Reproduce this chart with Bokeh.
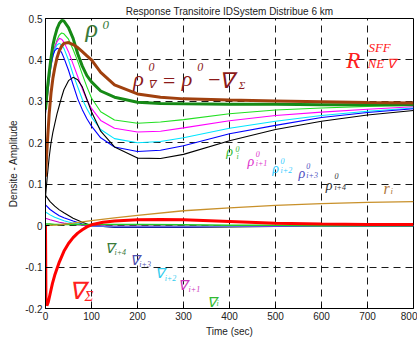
from bokeh.plotting import figure
from bokeh.models import Label, CustomJSTickFormatter
from bokeh.embed import file_html
from bokeh.resources import INLINE

# ---------------- data ----------------
t_rho = [0, 4, 8, 12, 16, 20, 25, 30, 35, 40, 50, 60, 70, 80, 90, 100, 120, 150,
         200, 250, 300, 400, 500, 600, 700, 800]
rho0 = [0.28, 0.33, 0.37, 0.405, 0.435, 0.455, 0.475, 0.488, 0.495, 0.494, 0.478, 0.452,
        0.415, 0.385, 0.362, 0.347, 0.325, 0.31, 0.298, 0.295, 0.294, 0.293, 0.293, 0.292, 0.292, 0.292]
rho_grad = [0.118, 0.2, 0.27, 0.32, 0.355, 0.38, 0.405, 0.422, 0.433, 0.44, 0.442, 0.437,
            0.43, 0.42, 0.41, 0.4, 0.37, 0.34, 0.318, 0.31, 0.306, 0.303, 0.301, 0.299, 0.297, 0.296]
rho_i = [0.27, 0.31, 0.35, 0.385, 0.41, 0.43, 0.448, 0.46, 0.465, 0.463, 0.45, 0.425,
         0.397, 0.365, 0.335, 0.308, 0.275, 0.255, 0.247, 0.25, 0.256, 0.27, 0.279, 0.284, 0.288, 0.291]
rho_i1 = [0.27, 0.31, 0.35, 0.385, 0.41, 0.43, 0.444, 0.452, 0.45, 0.443, 0.42, 0.39,
          0.36, 0.33, 0.303, 0.283, 0.254, 0.235, 0.226, 0.228, 0.236, 0.253, 0.266, 0.274, 0.281, 0.287]
rho_i2 = [0.275, 0.315, 0.355, 0.388, 0.41, 0.425, 0.436, 0.44, 0.436, 0.428, 0.40, 0.365,
          0.335, 0.305, 0.282, 0.262, 0.232, 0.21, 0.2, 0.203, 0.212, 0.235, 0.252, 0.266, 0.276, 0.284]
rho_i3 = [0.283, 0.32, 0.36, 0.39, 0.41, 0.422, 0.428, 0.426, 0.418, 0.405, 0.375, 0.34,
          0.306, 0.28, 0.258, 0.24, 0.212, 0.19, 0.179, 0.182, 0.193, 0.222, 0.242, 0.261, 0.273, 0.282]
rho_i4 = [0.07, 0.12, 0.165, 0.2, 0.225, 0.245, 0.27, 0.29, 0.31, 0.328, 0.35, 0.358,
          0.352, 0.335, 0.305, 0.275, 0.228, 0.19, 0.163, 0.162, 0.172, 0.205, 0.232, 0.252, 0.267, 0.278]

t_grad = [0, 10, 20, 30, 40, 60, 80, 100, 150, 200, 300, 400, 500, 600, 800]
grad_i4 = [0.073, 0.058, 0.047, 0.038, 0.031, 0.018, 0.008, 0.0, -0.004, -0.004, -0.004, -0.003, -0.002, -0.001, -0.001]
grad_i3 = [0.05, 0.039, 0.031, 0.024, 0.019, 0.011, 0.004, -0.001, -0.003, -0.003, -0.003, -0.002, -0.002, -0.001, -0.001]
grad_i2 = [0.033, 0.026, 0.02, 0.016, 0.012, 0.006, 0.002, -0.001, -0.002, -0.002, -0.002, -0.002, -0.001, -0.001, 0.0]
grad_i1 = [0.018, 0.014, 0.011, 0.008, 0.006, 0.003, 0.001, 0.0, -0.001, -0.001, -0.001, -0.001, -0.001, 0.0, 0.0]
grad_i = [0.004, 0.004, 0.003, 0.003, 0.003, 0.003, 0.003, 0.003, 0.003, 0.003, 0.002, 0.001, 0.001, 0.0, 0.0]

t_sum = [0, 1, 3, 6, 10, 15, 20, 30, 40, 50, 60, 70, 80, 90, 100, 125, 150, 200, 250,
         300, 400, 500, 600, 700, 800]
grad_sum = [0.0, -0.18, -0.193, -0.185, -0.165, -0.14, -0.12, -0.088, -0.062, -0.043, -0.029,
            -0.018, -0.01, -0.003, 0.002, 0.008, 0.011, 0.014, 0.015, 0.014, 0.01, 0.006, 0.004, 0.003, 0.003]

t_r = [0, 30, 60, 80, 100, 150, 200, 300, 400, 500, 600, 700, 800]
r_i = [0.0, 0.002, 0.006, 0.009, 0.012, 0.019, 0.025, 0.036, 0.043, 0.049, 0.053, 0.056, 0.058]

x_ticks = [0, 100, 200, 300, 400, 500, 600, 700, 800]
y_ticks = [-0.2, -0.1, 0.0, 0.1, 0.2, 0.3, 0.4, 0.5]

# ---------------- figure ----------------
p = figure(width=417, height=340, x_range=(0, 800), y_range=(-0.2, 0.5),
           output_backend="svg", toolbar_location=None,
           min_border_left=45, min_border_right=4, min_border_top=18, min_border_bottom=32,
           title="Response Transitoire IDSystem Distribue 6 km")
p.title.text_font = "Liberation Sans"
p.title.text_font_size = "10px"
p.title.text_font_style = "normal"
p.title.text_color = "#222222"
p.title.align = "center"
p.title.standoff = 3

p.background_fill_color = "white"
p.border_fill_color = "white"
p.outline_line_color = "black"
p.outline_line_width = 1

for ax in (p.xaxis[0], p.yaxis[0]):
    ax.major_label_text_font = "Liberation Sans"
    ax.major_label_text_font_size = "10px"
    ax.major_label_text_color = "#222222"
    ax.axis_label_text_font = "Liberation Sans"
    ax.axis_label_text_font_size = "10px"
    ax.axis_label_text_font_style = "normal"
    ax.axis_label_text_color = "#222222"
    ax.major_tick_in = 4
    ax.major_tick_out = 0
    ax.minor_tick_in = 0
    ax.minor_tick_out = 0
    ax.axis_line_color = "black"
    ax.major_tick_line_color = "black"
    ax.major_label_standoff = 3
    ax.axis_label_standoff = 3

p.xaxis.ticker = x_ticks
p.yaxis.ticker = y_ticks
p.yaxis.formatter = CustomJSTickFormatter(
    code="return Math.abs(tick) < 1e-9 ? '0' : tick.toFixed(1);")
p.xaxis.axis_label = "Time (sec)"
p.yaxis.axis_label = "Densite - Amplitude"

for g in (p.xgrid[0], p.ygrid[0]):
    g.grid_line_color = "black"
    g.grid_line_dash = "7 5"
    g.grid_line_width = 1
    g.grid_line_alpha = 0.9

# ---------------- lines ----------------
p.line(t_rho, rho_i, line_color="#22e022", line_width=1.1)
p.line(t_rho, rho_i1, line_color="#ff00ff", line_width=1.1)
p.line(t_rho, rho_i2, line_color="#00e5ff", line_width=1.1)
p.line(t_rho, rho_i3, line_color="#0000ff", line_width=1.1)
p.line(t_rho, rho_i4, line_color="#000000", line_width=1.1)

p.line(t_grad, grad_i4, line_color="#000000", line_width=1.1)
p.line(t_grad, grad_i3, line_color="#0000ff", line_width=1.1)
p.line(t_grad, grad_i2, line_color="#00e5ff", line_width=1.1)
p.line(t_grad, grad_i1, line_color="#cc00cc", line_width=1.1)
p.line(t_grad, grad_i, line_color="#22cc22", line_width=1.5)

p.line(t_r, r_i, line_color="#c8902a", line_width=1.3)
p.line(t_sum, grad_sum, line_color="#ff0000", line_width=3)
p.line(t_rho, rho0, line_color="#168a16", line_width=3)
p.line(t_rho, rho_grad, line_color="#a0400e", line_width=3)

# ---------------- annotations ----------------
SERIF = "Liberation Serif"
labels = [
    # text, x, y, size, color
    ("ρ", 87, 0.476, "26px", "#3a7a3a"),
    ("0", 124, 0.484, "13px", "#3a7a3a"),
    ("ρ", 191, 0.356, "22px", "#8b1a1a"),
    ("∇", 222, 0.343, "11px", "#8b1a1a"),
    ("0", 224, 0.382, "12px", "#8b1a1a"),
    ("=", 252, 0.351, "22px", "#8b1a1a"),
    ("ρ", 296, 0.356, "22px", "#8b1a1a"),
    ("0", 330, 0.382, "12px", "#8b1a1a"),
    ("−", 350, 0.351, "22px", "#8b1a1a"),
    ("∇", 378, 0.351, "22px", "#8b1a1a"),
    ("Σ", 420, 0.339, "11px", "#8b1a1a"),
    ("R", 654, 0.399, "23px", "#ff2020"),
    ("SFF", 702, 0.43, "13px", "#ff2020"),
    ("NE ∇", 700, 0.392, "13px", "#ff2020"),
    ("ρ", 393, 0.178, "14px", "#33bb33"),
    ("0", 413, 0.184, "8px", "#33bb33"),
    ("i", 415, 0.167, "8px", "#33bb33"),
    ("ρ", 439, 0.154, "14px", "#dd33cc"),
    ("0", 457, 0.174, "8px", "#dd33cc"),
    ("i+1", 457, 0.150, "8px", "#dd33cc"),
    ("ρ", 493, 0.137, "14px", "#33ccff"),
    ("0", 511, 0.157, "8px", "#33ccff"),
    ("i+2", 511, 0.133, "8px", "#33ccff"),
    ("ρ", 550, 0.125, "14px", "#5050c0"),
    ("0", 567, 0.143, "8px", "#5050c0"),
    ("i+3", 567, 0.121, "8px", "#5050c0"),
    ("ρ", 609, 0.098, "14px", "#333333"),
    ("0", 628, 0.119, "8px", "#333333"),
    ("i+4", 628, 0.092, "8px", "#333333"),
    ("r", 735, 0.09, "16px", "#b07840"),
    ("i", 750, 0.083, "9px", "#b07840"),
    ("∇", 130, -0.055, "14px", "#3a7a3a"),
    ("i+4", 150, -0.065, "8px", "#3a7a3a"),
    ("∇", 183, -0.084, "14px", "#5050b0"),
    ("i+3", 204, -0.094, "8px", "#5050b0"),
    ("∇", 237, -0.115, "14px", "#33ccee"),
    ("i+2", 259, -0.128, "8px", "#33ccee"),
    ("∇", 289, -0.144, "14px", "#cc33bb"),
    ("i+1", 311, -0.154, "8px", "#cc33bb"),
    ("∇", 352, -0.185, "14px", "#33bb33"),
    ("i", 372, -0.188, "8px", "#33bb33"),
    ("∇", 50, -0.157, "24px", "#ff2020"),
    ("Σ", 85, -0.169, "15px", "#ff2020"),
]
for txt, x, y, size, color in labels:
    p.add_layout(Label(x=x, y=y, text=txt, text_font=SERIF, text_font_style="italic",
                       text_font_size=size, text_color=color, text_baseline="alphabetic",
                       text_align="left"))

open("out.html", "w").write(file_html(p, INLINE))
